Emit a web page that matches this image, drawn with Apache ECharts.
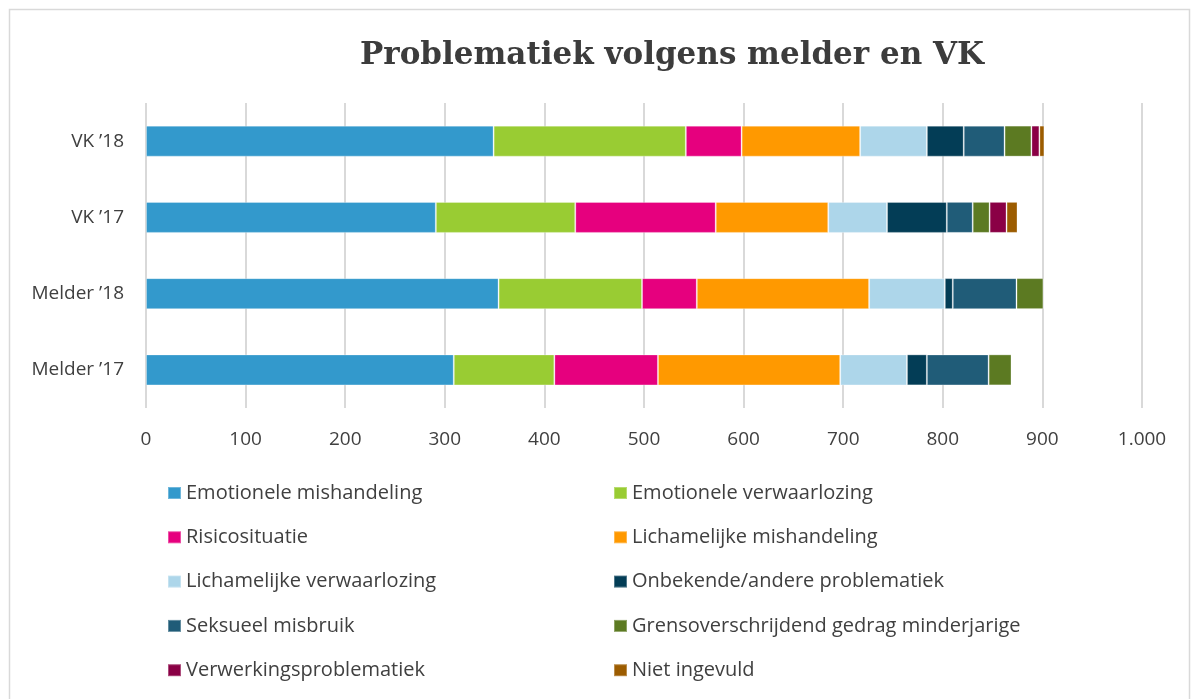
<!DOCTYPE html>
<html>
<head>
<meta charset="utf-8">
<script src="https://cdn.jsdelivr.net/npm/echarts@6/dist/echarts.min.js"></script>
<style>
html,body{margin:0;padding:0;background:#fff;}
#chart{width:1197px;height:699px;}
</style>
</head>
<body>
<div id="chart"></div>
<script>
const categories = ["Melder \u201917", "Melder \u201918", "VK \u201917", "VK \u201918"];
const seriesNames = [
  "Emotionele mishandeling", "Emotionele verwaarlozing", "Risicosituatie",
  "Lichamelijke mishandeling", "Lichamelijke verwaarlozing", "Onbekende/andere problematiek",
  "Seksueel misbruik", "Grensoverschrijdend gedrag minderjarige", "Verwerkingsproblematiek", "Niet ingevuld"
];
// values per series, order: Melder '17, Melder '18, VK '17, VK '18
const emotioneleMishandeling   = [309, 354, 291, 349];
const emotioneleVerwaarlozing  = [101, 144, 140, 193];
const risicosituatie           = [104, 55, 141, 56];
const lichamelijkeMishandeling = [183, 173, 113, 119];
const lichamelijkeVerwaarlozing= [67, 76, 59, 67];
const onbekendeAndere          = [20, 8, 60, 37];
const seksueelMisbruik         = [62, 64, 26, 41];
const grensoverschrijdend      = [23, 27, 17, 27];
const verwerkingsproblematiek  = [0, 1, 17, 8];
const nietIngevuld             = [0, 0, 11, 5];
const xTicks = [0, 100, 200, 300, 400, 500, 600, 700, 800, 900, 1000];

const values = [emotioneleMishandeling, emotioneleVerwaarlozing, risicosituatie, lichamelijkeMishandeling,
  lichamelijkeVerwaarlozing, onbekendeAndere, seksueelMisbruik, grensoverschrijdend, verwerkingsproblematiek, nietIngevuld];
const colors = ["#3399cc", "#99cc33", "#e6007e", "#ff9900", "#add6ea", "#033d56", "#205c78", "#5c7a22", "#8a0045", "#9c5c00"];

const font = "'Open Sans', 'Noto Sans', sans-serif";
const chart = echarts.init(document.getElementById('chart'), null, {renderer: 'canvas'});

const series = seriesNames.map((n, i) => ({
  name: n,
  type: 'bar',
  stack: 'total',
  barWidth: 31,
  data: values[i],
  itemStyle: {color: colors[i], borderColor: 'rgba(255,255,255,0.3)', borderWidth: 1},
  emphasis: {disabled: true}
}));

const col1 = seriesNames.filter((_, i) => i % 2 === 0);
const col2 = seriesNames.filter((_, i) => i % 2 === 1);
const legendCommon = {
  orient: 'vertical', top: 483, padding: 0, itemWidth: 13, itemHeight: 12, itemGap: 24.3,
  icon: 'rect', selectedMode: false,
  textStyle: {fontFamily: font, fontSize: 20, color: '#404040', lineHeight: 20}
};

chart.setOption({
  animation: false,
  color: colors,
  graphic: [{
    type: 'rect', shape: {x: 9.5, y: 9.5, width: 1180, height: 700},
    style: {fill: 'none', stroke: '#d9d9d9', lineWidth: 1.5}, silent: true
  }],
  title: {
    text: 'Problematiek volgens melder en VK',
    left: 672, top: 40, textAlign: 'center', padding: 0,
    textStyle: {fontFamily: "'DejaVu Serif', serif", fontWeight: 'bold', fontSize: 31, color: '#3c3c3c'}
  },
  legend: [
    Object.assign({}, legendCommon, {left: 167, data: col1}),
    Object.assign({}, legendCommon, {left: 613, data: col2})
  ],
  grid: {left: 146, right: 55, top: 103, bottom: 291, containLabel: false},
  xAxis: {
    type: 'value', min: 0, max: 1000, interval: 100,
    axisLine: {show: false}, axisTick: {show: false},
    splitLine: {lineStyle: {color: '#d9d9d9', width: 2}},
    axisLabel: {
      margin: 22, fontFamily: font, fontSize: 19, color: '#404040',
      formatter: v => xTicks.includes(v) ? (v >= 1000 ? String(v).replace(/\B(?=(\d{3})+(?!\d))/g, '.') : String(v)) : ''
    }
  },
  yAxis: {
    type: 'category', data: categories,
    axisLine: {show: false}, axisTick: {show: false},
    axisLabel: {margin: 22, fontFamily: font, fontSize: 19, color: '#404040'}
  },
  series: series
});
</script>
</body>
</html>
